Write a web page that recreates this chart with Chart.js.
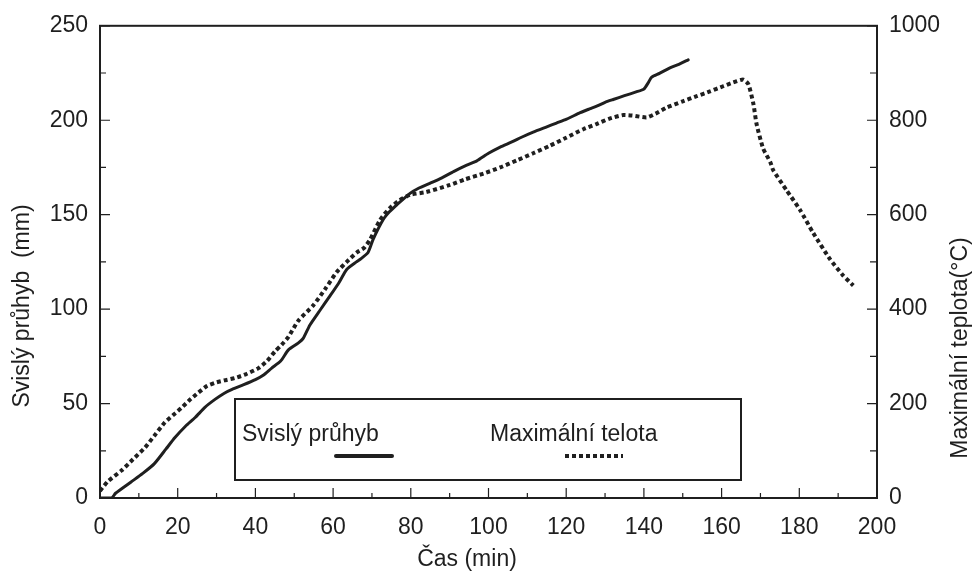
<!DOCTYPE html>
<html><head><meta charset="utf-8">
<script src="https://cdn.jsdelivr.net/npm/chart.js@4/dist/chart.umd.min.js"></script>
<style>html,body{margin:0;padding:0;background:#fff}#wrap{width:974px;height:572px;position:relative}</style>
</head><body><div id="wrap"><canvas id="c" width="974" height="572"></canvas></div>
<script>
// ---- data ----
const defTime  = [0,3,4,8,11,14,17,19.3,22,24.5,27,29.6,32,34,37,40,42,44.2,46.5,48.5,51,52.3,54,56.5,59.2,61.5,63.5,66,67,69,70.3,72.9,74.5,76.4,79.8,82,84.9,88,91,94.4,97,100,103,106,108.5,111.5,115,117.5,120.1,123.6,126,128,130,132.1,135,138,140,141.1,142,144,146.7,149,151.4];
const defValue = [0,0,2.5,8.5,13,18.2,26,32,38,42.6,48,52.2,55.5,57.5,60,62.7,65,68.8,72.5,78.4,82,84.5,91.5,99,107,114,121,125,126.4,130,136.9,147.4,151.5,155.2,161.3,164,166.6,169.5,172.8,176.2,178.5,182.5,185.8,188.5,191,193.7,196.5,198.5,200.6,204,206,207.6,209.5,211,213,215,216.5,219.8,222.8,224.8,227.7,229.6,232];
const tempTime  = [0,2,5.6,8.5,11.6,14,16.7,19,21,23,25.3,27.5,29.6,32,34.7,37.5,40.8,43,45,46.8,48.5,51,54.9,58,60.9,63.5,66.1,68,69.5,72.1,74.6,77,79.8,84,90.1,94,98.7,103,107.3,111.5,115.8,120,124.4,127.8,131,134.7,137,140.7,143,145.9,150,153.6,157,160.4,163,165.6,166.9,168.2,169,170.7,172.5,173.3,176.7,180.2,183.6,187.9,191.3,193.9];
const tempValue = [15,35,58.7,82,107,132,160,177,191,207,223,237,244,249,254,262,275,290,310,325,341,375,408,443,478,500,520,530,547,589,614,630,642,648,663,675,687,700,715,730,746,763,781,792,803,811,810,806,814,827,840,851,861,872,880,886,876,834,792,740,712,694,652,610,561,506,471,450];
const xTicks = [0,20,40,60,80,100,120,140,160,180,200];
const xMinorTicks = [10,30,50,70,90,110,130,150,170,190];
const yLeftTicks = [0,50,100,150,200,250];
const yLeftMinorTicks = [25,75,125,175,225];
const yRightTicks = [0,200,400,600,800,1000];
const yRightMinorTicks = [100,300,500,700,900];
const seriesNames = ['Svislý průhyb','Maximální telota'];
const xTitle = 'Čas (min)';
const yLeftTitle = 'Svislý průhyb  (mm)';
const yRightTitle = 'Maximální teplota(°C)';

const INK = '#1f1f1f';
const FONT = '"Liberation Sans", Arial, sans-serif';
const FS = 23;

const frame = {
  id:'frame',
  afterDraw(chart){
    const c = chart.ctx, a = chart.chartArea;
    const sx = chart.scales.x, sl = chart.scales.yL, sr = chart.scales.yR;
    c.save();
    c.strokeStyle = INK; c.lineWidth = 2;
    c.strokeRect(a.left, a.top, a.right-a.left, a.bottom-a.top);
    c.lineWidth = 1.2;
    c.beginPath();
    const tk = (arr, len, fn) => arr.forEach(v => fn(v, len));
    tk(xTicks, 10, (v,l)=>{const p=sx.getPixelForValue(v); c.moveTo(p,a.bottom); c.lineTo(p,a.bottom-l);});
    tk(xMinorTicks, 5, (v,l)=>{const p=sx.getPixelForValue(v); c.moveTo(p,a.bottom); c.lineTo(p,a.bottom-l);});
    tk(yLeftTicks, 10, (v,l)=>{const p=sl.getPixelForValue(v); c.moveTo(a.left,p); c.lineTo(a.left+l,p);});
    tk(yLeftMinorTicks, 6, (v,l)=>{const p=sl.getPixelForValue(v); c.moveTo(a.left,p); c.lineTo(a.left+l,p);});
    tk(yRightTicks, 10, (v,l)=>{const p=sr.getPixelForValue(v); c.moveTo(a.right,p); c.lineTo(a.right-l,p);});
    tk(yRightMinorTicks, 7, (v,l)=>{const p=sr.getPixelForValue(v); c.moveTo(a.right,p); c.lineTo(a.right-l,p);});
    c.stroke();

    // axis titles
    c.fillStyle = INK; c.font = FS+'px '+FONT; c.textAlign='center'; c.textBaseline='middle';
    c.fillText(xTitle, 467, 560);
    c.save(); c.translate(23, 306); c.rotate(-Math.PI/2); c.fillText(yLeftTitle, 0, 0); c.restore();
    c.save(); c.translate(961, 348); c.rotate(-Math.PI/2); c.fillText(yRightTitle, 0, 0); c.restore();

    // legend box
    c.fillStyle = '#fff';
    c.fillRect(235, 399, 506, 81);
    c.lineWidth = 2; c.strokeStyle = INK;
    c.strokeRect(235, 399, 506, 81);
    c.fillStyle = INK; c.textAlign='left';
    c.fillText(seriesNames[0], 242, 435);
    c.fillText(seriesNames[1], 490, 435);
    c.lineWidth = 4; c.lineCap='round';
    c.beginPath(); c.moveTo(336,456); c.lineTo(392,456); c.stroke();
    c.lineCap='butt'; c.setLineDash([4,3]);
    c.beginPath(); c.moveTo(565,456); c.lineTo(623,456); c.stroke();
    c.restore();
  }
};

const fmt = v => String(v);

new Chart(document.getElementById('c'), {
  type:'line',
  data:{datasets:[
    {label:seriesNames[0], data:defTime.map((t,i)=>({x:t,y:defValue[i]})), yAxisID:'yL',
     borderColor:INK, borderWidth:3, pointRadius:0, fill:false, tension:0.2, borderCapStyle:'round', borderJoinStyle:'round'},
    {label:seriesNames[1], data:tempTime.map((t,i)=>({x:t,y:tempValue[i]})), yAxisID:'yR',
     borderColor:INK, borderWidth:4, borderDash:[4,3], pointRadius:0, fill:false, tension:0.2}
  ]},
  options:{
    responsive:false, animation:false, devicePixelRatio:1,
    layout:{padding:{top:21,left:0,right:0,bottom:0}},
    plugins:{legend:{display:false}, tooltip:{enabled:false}},
    scales:{
      x:{type:'linear', position:'bottom', min:0, max:200,
         afterBuildTicks:s=>{s.ticks = xTicks.map(v=>({value:v}));},
         afterFit:s=>{s.height=74;},
         grid:{display:false, drawTicks:false, tickLength:0}, border:{display:false},
         ticks:{color:INK, font:{family:FONT,size:FS}, padding:16, maxRotation:0, autoSkip:false, callback:fmt}},
      yL:{type:'linear', position:'left', min:0, max:250,
         afterBuildTicks:s=>{s.ticks = yLeftTicks.map(v=>({value:v}));},
         afterFit:s=>{s.width=100;},
         grid:{display:false, drawTicks:false, tickLength:0}, border:{display:false},
         ticks:{color:INK, font:{family:FONT,size:FS}, padding:12, autoSkip:false, callback:fmt}},
      yR:{type:'linear', position:'right', min:0, max:1000,
         afterBuildTicks:s=>{s.ticks = yRightTicks.map(v=>({value:v}));},
         afterFit:s=>{s.width=97;},
         grid:{display:false, drawTicks:false, tickLength:0}, border:{display:false},
         ticks:{color:INK, font:{family:FONT,size:FS}, padding:12, autoSkip:false, callback:fmt}}
    }
  },
  plugins:[frame]
});
</script></body></html>
